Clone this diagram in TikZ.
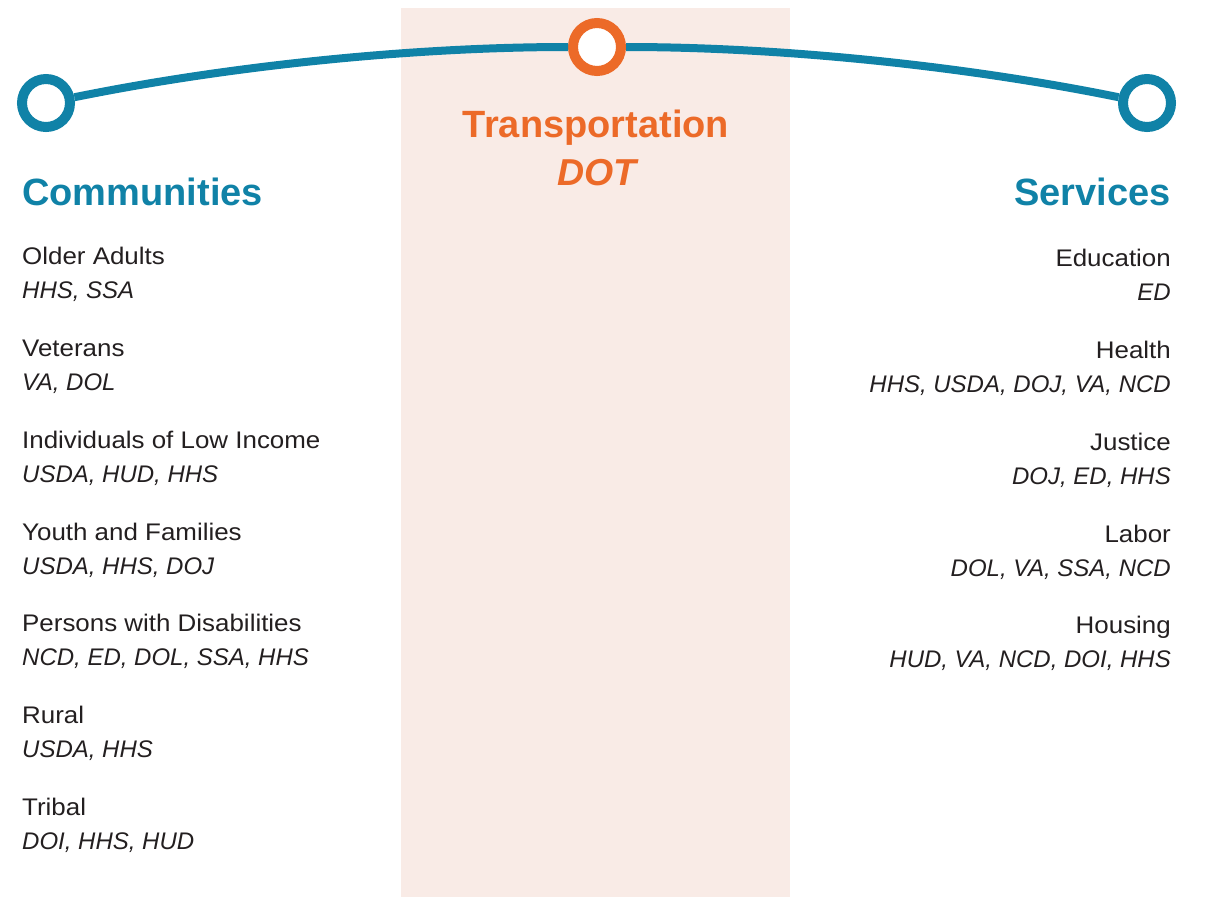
\documentclass[tikz,border=0pt]{standalone}
\usepackage{fontspec}
\setmainfont{Liberation Sans}
\newfontfamily\bodyup{Liberation Sans}[FakeStretch=1.08]
\definecolor{lineblue}{RGB}{16,130,167}
\definecolor{dotorange}{RGB}{236,106,40}
\definecolor{bandpink}{RGB}{249,235,230}
\definecolor{bodytext}{RGB}{35,31,32}
\tikzset{
  ring/.style={circle, draw, fill=white, line width=10pt, minimum size=48pt, inner sep=0pt},
  conn/.style={draw=lineblue, line width=8pt},
  heading/.style={text=lineblue, font=\fontsize{38}{40}\selectfont\bfseries, inner sep=0pt},
  itemname/.style={text=bodytext, font=\bodyup\fontsize{24}{28}\selectfont, inner sep=0pt},
  agency/.style={text=bodytext, font=\fontsize{24}{28}\selectfont\itshape, inner sep=0pt}
}
\begin{document}
\begin{tikzpicture}[x=1pt,y=-1pt]
\useasboundingbox (0,0) rectangle (1207,897);
\fill[bandpink] (401,8) rectangle (790,897);
% curve and rings
\node[ring, draw=lineblue] (L) at (46,103) {};
\node[ring, draw=dotorange] (O) at (597,47) {};
\node[ring, draw=lineblue] (R) at (1147,103) {};
\draw[conn] (L) .. controls (229.7,65.7) and (413.3,47) .. (O);
\draw[conn] (O) .. controls (780.3,47) and (963.7,65.7) .. (R);
% headings
\node[heading, anchor=base west] (comm) at (22,205) {Communities};
\node[heading, anchor=base east] (serv) at (1171,205) {Services};
\node[heading, text=dotorange, anchor=base] (trans) at (596,137) {Transportation};
\node[heading, text=dotorange, anchor=base, font=\fontsize{37.5}{40}\selectfont\bfseries\itshape] (dot) at (597,185) {DOT};
% left column
\node[itemname, anchor=base west] (c1) at (22,264) {Older Adults};
\node[agency, anchor=base west] (c1a) at (22,298) {HHS, SSA};
\node[itemname, anchor=base west] (c2) at (22,356) {Veterans};
\node[agency, anchor=base west] (c2a) at (22,390) {VA, DOL};
\node[itemname, anchor=base west] (c3) at (22,448) {Individuals of Low Income};
\node[agency, anchor=base west] (c3a) at (22,482) {USDA, HUD, HHS};
\node[itemname, anchor=base west] (c4) at (22,540) {Youth and Families};
\node[agency, anchor=base west] (c4a) at (22,574) {USDA, HHS, DOJ};
\node[itemname, anchor=base west] (c5) at (22,631) {Persons with Disabilities};
\node[agency, anchor=base west] (c5a) at (22,665) {NCD, ED, DOL, SSA, HHS};
\node[itemname, anchor=base west] (c6) at (22,723) {Rural};
\node[agency, anchor=base west] (c6a) at (22,757) {USDA, HHS};
\node[itemname, anchor=base west] (c7) at (22,815) {Tribal};
\node[agency, anchor=base west] (c7a) at (22,849) {DOI, HHS, HUD};
% right column
\node[itemname, anchor=base east] (s1) at (1171,266) {Education};
\node[agency, anchor=base east] (s1a) at (1171,300) {ED};
\node[itemname, anchor=base east] (s2) at (1171,358) {Health};
\node[agency, anchor=base east] (s2a) at (1171,392) {HHS, USDA, DOJ, VA, NCD};
\node[itemname, anchor=base east] (s3) at (1171,450) {Justice};
\node[agency, anchor=base east] (s3a) at (1171,484) {DOJ, ED, HHS};
\node[itemname, anchor=base east] (s4) at (1171,542) {Labor};
\node[agency, anchor=base east] (s4a) at (1171,576) {DOL, VA, SSA, NCD};
\node[itemname, anchor=base east] (s5) at (1171,633) {Housing};
\node[agency, anchor=base east] (s5a) at (1171,667) {HUD, VA, NCD, DOI, HHS};
\end{tikzpicture}
\end{document}
